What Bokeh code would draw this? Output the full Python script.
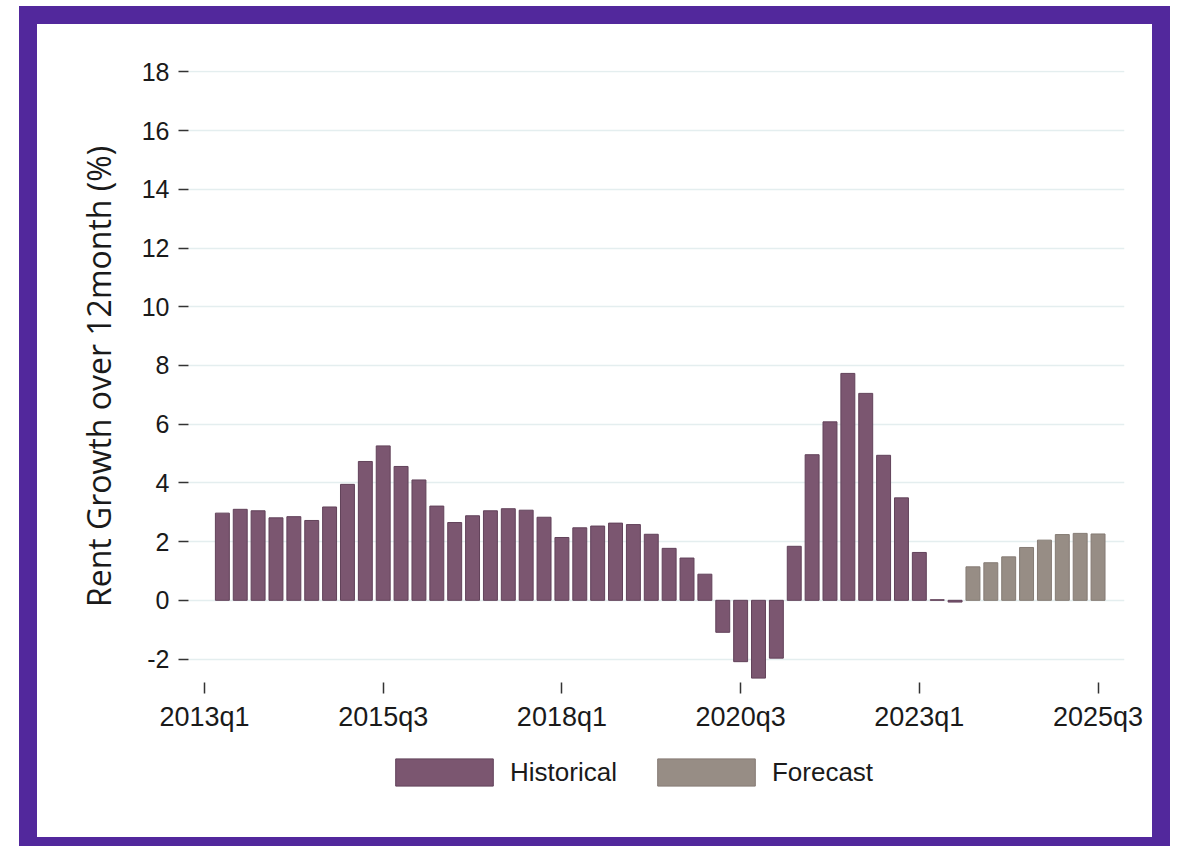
from bokeh.plotting import figure
from bokeh.models import FixedTicker, Legend, LegendItem, ColumnDataSource, Range1d
from bokeh.layouts import column
from bokeh.embed import file_html
from bokeh.resources import INLINE

# ---------------- data ----------------
hist_values = [2.97, 3.10, 3.05, 2.81, 2.85, 2.72, 3.18, 3.95, 4.73, 5.26,
               4.56, 4.10, 3.21, 2.65, 2.88, 3.05, 3.12, 3.07, 2.83, 2.14,
               2.47, 2.53, 2.63, 2.58, 2.25, 1.77, 1.44, 0.89, -1.09, -2.09,
               -2.65, -1.97, 1.84, 4.96, 6.08, 7.73, 7.05, 4.94, 3.49, 1.63,
               0.02, -0.06]
fcst_values = [1.14, 1.28, 1.48, 1.80, 2.05, 2.24, 2.28, 2.26]
hist_start = "2013q2"
fcst_start = "2023q4"
x_tick_labels = ["2013q1", "2015q3", "2018q1", "2020q3", "2023q1", "2025q3"]
y_ticks = [-2, 0, 2, 4, 6, 8, 10, 12, 14, 16, 18]
y_title = "Rent Growth over 12month (%)"
series_names = ["Historical", "Forecast"]


def q_index(label):
    yr, q = label.split("q")
    return (int(yr) - 2013) * 4 + int(q) - 1


def q_labels(start, n):
    i0 = q_index(start)
    return [f"{2013 + (i0 + k) // 4}q{(i0 + k) % 4 + 1}" for k in range(n)]


hist_quarters = q_labels(hist_start, len(hist_values))
fcst_quarters = q_labels(fcst_start, len(fcst_values))

hist_src = ColumnDataSource(dict(x=[q_index(q) for q in hist_quarters], top=hist_values, q=hist_quarters))
fcst_src = ColumnDataSource(dict(x=[q_index(q) for q in fcst_quarters], top=fcst_values, q=fcst_quarters))

HIST = "#7b5670"
HIST_LINE = "#62425a"
FCST = "#978d85"
FCST_LINE = "#857b74"

# ---------------- main figure ----------------
p = figure(width=1115, height=720,
           x_range=Range1d(-0.895, 51.48), y_range=Range1d(-2.8, 18.05),
           output_backend="svg", toolbar_location=None,
           min_border_left=151, min_border_right=28,
           min_border_top=46, min_border_bottom=62,
           background_fill_color="white", border_fill_color="white",
           outline_line_color=None, styles={"background-color": "white"})

p.vbar(x="x", top="top", bottom=0, width=0.78, source=hist_src,
       fill_color=HIST, line_color=HIST_LINE, line_width=1)
p.vbar(x="x", top="top", bottom=0, width=0.78, source=fcst_src,
       fill_color=FCST, line_color=FCST_LINE, line_width=1)

# grid
p.xgrid.visible = False
p.ygrid.grid_line_color = "#e4eeef"
p.ygrid.grid_line_width = 1.5

# y axis
ya = p.yaxis[0]
ya.ticker = FixedTicker(ticks=y_ticks)
ya.major_label_overrides = {t: str(t) for t in y_ticks}
ya.axis_line_color = None
ya.major_tick_in = 0
ya.major_tick_out = 10
ya.major_tick_line_color = "#333333"
ya.major_tick_line_width = 1.5
ya.minor_tick_line_color = None
ya.major_label_text_font = "Liberation Sans"
ya.major_label_text_font_size = "25px"
ya.major_label_text_color = "#1a1a1a"
ya.major_label_standoff = 9
ya.axis_label = y_title
ya.axis_label_text_font = "Open Sans"
ya.axis_label_text_font_size = "32px"
ya.axis_label_text_font_style = "normal"
ya.axis_label_text_color = "#1a1a1a"
ya.axis_label_standoff = 19

# x axis
xa = p.xaxis[0]
xa.ticker = FixedTicker(ticks=[q_index(l) for l in x_tick_labels])
xa.major_label_overrides = {q_index(l): l for l in x_tick_labels}
xa.axis_line_color = None
xa.major_tick_in = 0
xa.major_tick_out = 11
xa.major_tick_line_color = "#333333"
xa.major_tick_line_width = 1.5
xa.minor_tick_line_color = None
xa.major_label_text_font = "Liberation Sans"
xa.major_label_text_font_size = "27px"
xa.major_label_text_color = "#1a1a1a"
xa.major_label_standoff = 8

# ---------------- legend strip ----------------
# key renderers use the same sources; the strip's y range keeps them out of view
lg = figure(width=1115, height=93, x_range=Range1d(-0.895, 51.48), y_range=Range1d(100, 101),
            x_axis_type=None, y_axis_type=None,
            output_backend="svg", toolbar_location=None, min_border=0,
            background_fill_color="white", border_fill_color="white",
            outline_line_color=None, styles={"background-color": "white"})
k1 = lg.vbar(x="x", top="top", bottom=0, width=0.78, source=hist_src,
             fill_color=HIST, line_color=HIST_LINE, line_width=1)
k2 = lg.vbar(x="x", top="top", bottom=0, width=0.78, source=fcst_src,
             fill_color=FCST, line_color=FCST_LINE, line_width=1)

legend = Legend(items=[LegendItem(label=series_names[0], renderers=[k1]),
                       LegendItem(label=series_names[1], renderers=[k2])],
                orientation="horizontal", location=(195, 48),
                glyph_width=122, glyph_height=34, label_standoff=5, spacing=28,
                label_text_font="Liberation Sans", label_text_font_size="26px",
                label_text_color="#1a1a1a", border_line_color=None,
                background_fill_alpha=0, padding=0, margin=0)
lg.add_layout(legend, "center")

page = column(p, lg, spacing=0,
              styles={"background-color": "#52289c",
                      "padding": "18px 18px 9px 18px",
                      "margin-left": "19px", "margin-top": "6px"})

open("out.html", "w").write(file_html(page, INLINE))
